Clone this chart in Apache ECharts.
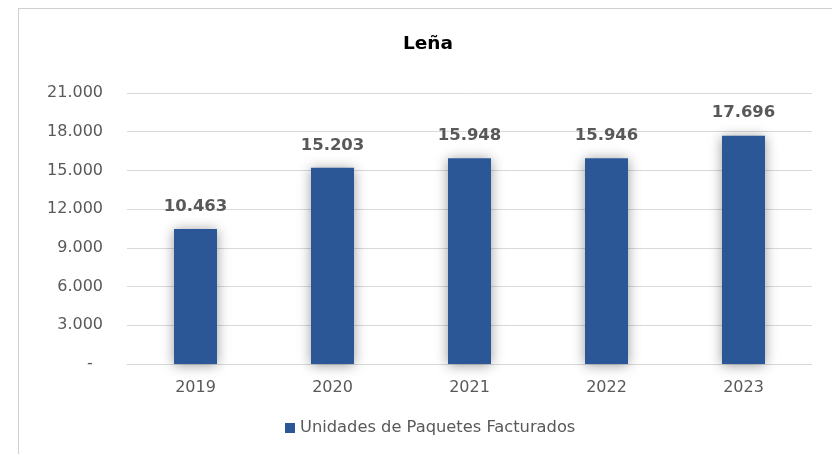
<!DOCTYPE html>
<html>
<head>
<meta charset="utf-8">
<script src="https://cdn.jsdelivr.net/npm/echarts@6/dist/echarts.min.js"></script>
<style>
  html, body { margin: 0; padding: 0; background: #fff; }
  #frame { position: absolute; left: 18px; top: 8px; width: 900px; height: 600px;
           border-left: 1px solid #d0d0d0; border-top: 1px solid #d0d0d0; }
  #chart { position: absolute; left: 0; top: 0; width: 832px; height: 454px; }
</style>
</head>
<body>
<div id="frame"></div>
<div id="chart"></div>
<script>
const years = ['2019', '2020', '2021', '2022', '2023']
const paquetes = [10463, 15203, 15948, 15946, 17696]
const seriesName = 'Unidades de Paquetes Facturados'
const chartTitle = 'Leña'

// formato con punto de miles
const fmt = v => String(v).replace(/\B(?=(\d{3})+(?!\d))/g, '.')

const myChart = echarts.init(document.getElementById('chart'))
const font = 'DejaVu Sans, Verdana, sans-serif'

const option = {
  animation: false,
  title: {
    text: chartTitle,
    left: 398,
    top: 30,
    textStyle: { fontFamily: font, fontSize: 18.5, fontWeight: 'bold', color: '#000' }
  },
  legend: {
    data: [seriesName],
    left: 280,
    top: 415,
    icon: 'rect',
    itemWidth: 10,
    itemHeight: 10,
    textStyle: { fontFamily: font, fontSize: 16.3, color: '#595959' }
  },
  grid: {
    left: 127,
    right: 20,
    top: 93,
    bottom: 90
  },
  xAxis: {
    type: 'category',
    data: years,
    axisTick: { show: false },
    axisLine: { lineStyle: { color: '#d9d9d9', width: 1 } },
    axisLabel: { margin: 16, fontFamily: font, fontSize: 16, color: '#595959' }
  },
  yAxis: {
    type: 'value',
    min: 0,
    max: 21000,
    interval: 3000,
    axisLine: { show: false },
    axisTick: { show: false },
    splitLine: { lineStyle: { color: '#d9d9d9', width: 1 } },
    axisLabel: {
      margin: 24,
      fontFamily: font,
      fontSize: 16,
      color: '#595959',
      formatter: v => (v === 0 ? '-  ' : fmt(v))
    }
  },
  series: [{
    name: seriesName,
    type: 'bar',
    barWidth: 43,
    data: paquetes,
    itemStyle: {
      color: '#2b5797',
      shadowBlur: 12,
      shadowColor: 'rgba(0,0,0,0.4)',
      shadowOffsetX: 0,
      shadowOffsetY: 1
    },
    label: {
      show: true,
      position: 'top',
      distance: 14,
      fontFamily: font,
      fontSize: 16.5,
      fontWeight: 'bold',
      color: '#595959',
      formatter: p => fmt(p.value)
    }
  }]
}
myChart.setOption(option)
</script>
</body>
</html>
